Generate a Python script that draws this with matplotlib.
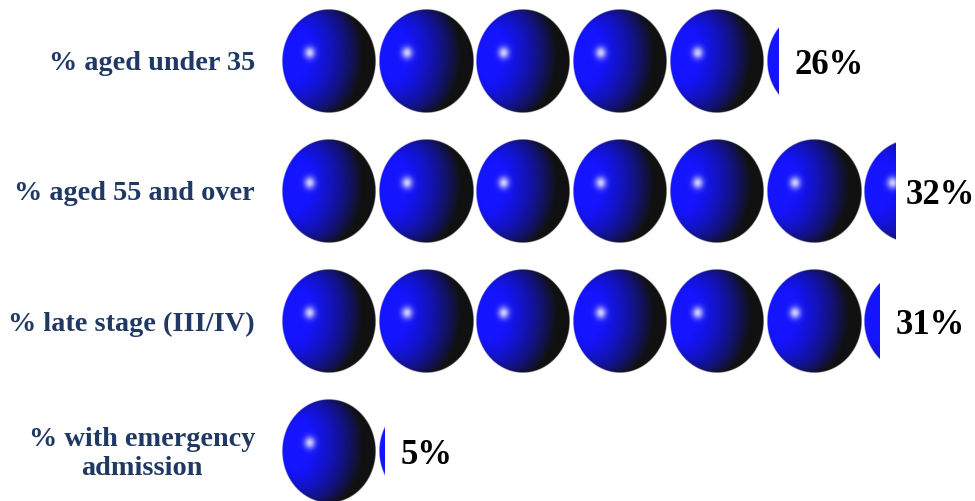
import numpy as np
import matplotlib
matplotlib.use("Agg")
import matplotlib.pyplot as plt
from matplotlib.patches import Rectangle

labels = ["% aged under 35", "% aged 55 and over", "% late stage (III/IV)", "% with emergency\nadmission"]
values = [25.6, 31.6, 30.8, 5.3]
value_labels = ["26%", "32%", "31%", "5%"]
per_sphere = 5


def sphere_image(size=300):
    # shaded ball, lit from the left with a small highlight
    u = np.linspace(-1, 1, size)
    x, y = np.meshgrid(u, u)
    r2 = x**2 + y**2
    z = np.sqrt(np.clip(1 - r2, 0, 1))
    light = np.array([-0.78, -0.12, 0.62])
    diffuse = x * light[0] + y * light[1] + z * light[2]
    shade = np.clip((diffuse + 0.14) / 1.14 * 1.12, 0, 1)
    img = np.zeros((size, size, 4))
    img[..., 0] = 17 + 3 * shade
    img[..., 1] = 17 + 3 * shade
    img[..., 2] = 17 + 238 * shade
    img[..., :3] /= 255
    spot = 0.8 * np.exp(-((x + 0.41)**2 + (y + 0.16)**2) / (2 * 0.08**2))
    for c in range(3):
        img[..., c] = img[..., c] * (1 - spot) + spot
    img[..., 3] = np.clip((1 - np.sqrt(r2)) * size / 3, 0, 1)
    return img


fig = plt.figure(figsize=(9.75, 5.02), dpi=100)
ax = fig.add_axes([0, 0, 1, 1])
ax.axis("off")

plt.rcParams["font.family"] = ["Liberation Serif", "DejaVu Serif"]

# one sphere is 5%, 97 px wide with its gap, rows are 130 px apart
px_x = 97 / per_sphere
xlim = (-282 / px_x, (975 - 282) / px_x)
ylim = ((502 - 62) / 130, -62 / 130)

ball = sphere_image()
ball_w = 94 / px_x
ball_h = 104 / 130

for i, (lab, val, txt) in enumerate(zip(labels, values, value_labels)):
    n = int(np.ceil(val / per_sphere))
    for k in range(n):
        x0 = k * per_sphere
        im = ax.imshow(ball, extent=[x0, x0 + ball_w, i + ball_h / 2, i - ball_h / 2],
                       interpolation="bilinear", aspect="auto", zorder=2)
        clip = Rectangle((x0 - 1, i - 0.5), val - x0 + 1, 1, transform=ax.transData)
        im.set_clip_path(clip)
    ax.text(-27 / px_x, i + 0.015, lab, ha="right", va="center", ma="center",
            fontsize=20.3, fontweight="bold", color="#1f3864", linespacing=1.25)
    tx = min(val + 16 / px_x, (906 - 282) / px_x)
    ax.text(tx, i + 0.03, txt, ha="left", va="center", fontsize=25,
            fontweight="bold", color="black")

ax.set_xlim(*xlim)
ax.set_ylim(*ylim)
fig.savefig("out.png", dpi=100)
